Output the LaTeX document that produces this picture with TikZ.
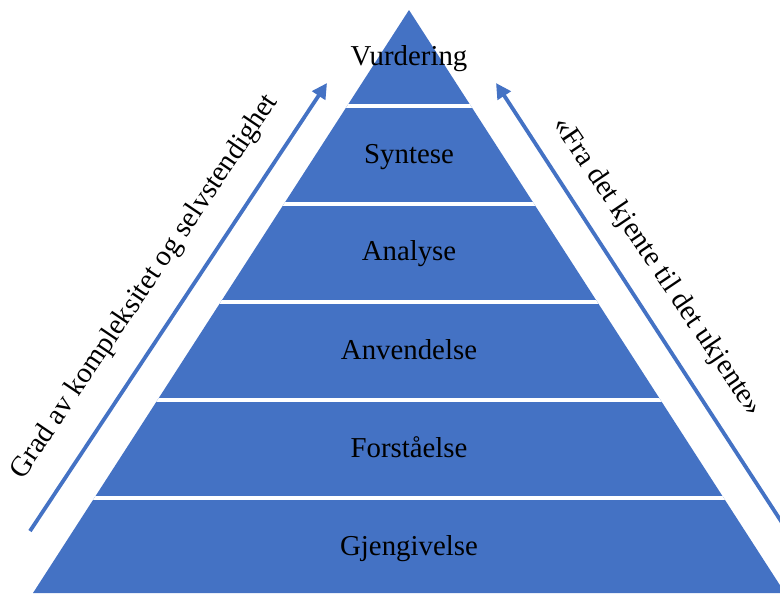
\documentclass[tikz,border=0pt]{standalone}
\usepackage{fontspec}
\setmainfont{Liberation Serif}
\usetikzlibrary{arrows.meta}
\definecolor{layer}{HTML}{4472C4}
\definecolor{ink}{HTML}{000000}
\tikzset{
  font=\fontsize{20.5}{24}\selectfont,
  levelname/.style={anchor=base, text=ink, inner sep=0pt},
  sidetext/.style={anchor=center, text=ink, inner sep=0pt},
  divider/.style={draw=white, line width=2.4pt},
  arrow/.style={-{Triangle[length=3.8mm,width=3.8mm]}, draw=layer, line width=2.7pt},
}

\begin{document}
\begin{tikzpicture}[x=0.025cm, y=-0.025cm]
\useasboundingbox (0,0) rectangle (780,593);
\clip (0,0) rectangle (780,593);
% pyramid
\coordinate (top) at (409,10);
\coordinate (bl) at (33,593);
\coordinate (br) at (785,593);
\fill[layer] (top) -- (bl) -- (br) -- cycle;
\begin{scope}
  \clip (top) -- (bl) -- (br) -- cycle;
  \foreach \y in {106,204,302,400,498}
    \draw[divider] (0,\y) -- (800,\y);
\end{scope}
% levels
\node[levelname] (vurd) at (409,65) {Vurdering};
\node[levelname] (synt) at (409,163) {Syntese};
\node[levelname] (anal) at (409,260) {Analyse};
\node[levelname] (anv) at (409,359) {Anvendelse};
\node[levelname] (forst) at (409,457) {Forståelse};
\node[levelname] (gjen) at (409,555) {Gjengivelse};
% side arrows
\coordinate (la) at (30,531);
\coordinate (lb) at (327,83);
\coordinate (ra) at (792,538);
\coordinate (rb) at (496,83);
\draw[arrow] (la) -- (lb);
\draw[arrow] (ra) -- (rb);
\node[sidetext, rotate=56] (grad) at (145,287) {Grad av kompleksitet og selvstendighet};
\node[sidetext, rotate=-56] (kjent) at (657,267) {«Fra det kjente til det ukjente»};
\end{tikzpicture}
\end{document}
